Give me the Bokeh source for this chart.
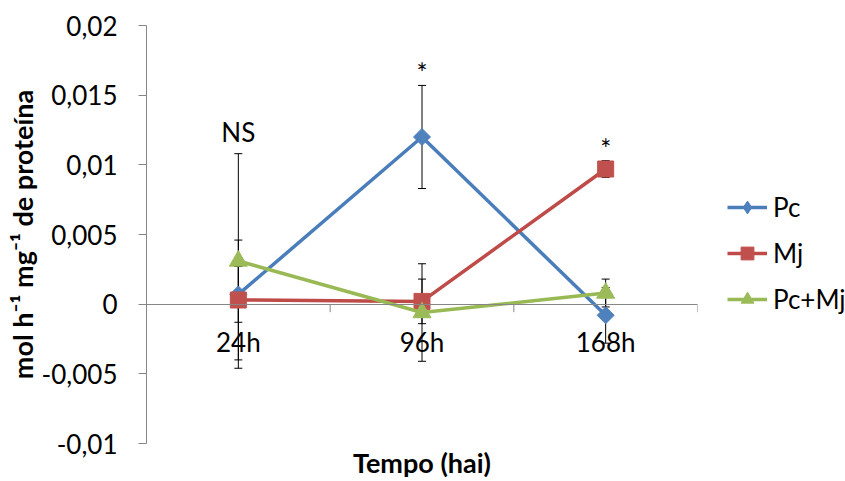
import math
from bokeh.plotting import figure
from bokeh.layouts import row
from bokeh.models import (ColumnDataSource, Whisker, TeeHead, FixedTicker, Legend,
                          LegendItem, CategoricalAxis, LinearAxis, Range1d, FactorRange)
from bokeh.core.properties import value
from bokeh.embed import file_html
from bokeh.resources import INLINE

# ---- data ----
categories = ["24h", "96h", "168h"]
pc = [0.0007, 0.0120, -0.0008]
pc_err = [0.0020, 0.0037, 0.0020]
mj = [0.0003, 0.0002, 0.0097]
mj_err = [0.0043, 0.0016, 0.0006]
pcmj = [0.0031, -0.0006, 0.0008]
pcmj_err = [0.0077, 0.0035, 0.0010]
sig_labels = ["NS", "*", "*"]
series_names = ["Pc", "Mj", "Pc+Mj"]
y_ticks = [-0.01, -0.005, 0, 0.005, 0.01, 0.015, 0.02]
y_tick_labels = ["-0,01", "-0,005", "0", "0,005", "0,01", "0,015", "0,02"]
x_title = "Tempo (hai)"
y_title = "mol h\u207b\u00b9 mg\u207b\u00b9 de proteína"

FONT = "Lato"
AXIS_GRAY = "#868686"

p = figure(width=700, height=481,
           x_range=FactorRange(*categories), y_range=Range1d(-0.01, 0.02),
           output_backend="svg", toolbar_location=None,
           x_axis_location=None, y_axis_location="left",
           min_border_left=146, min_border_right=3,
           min_border_top=25, min_border_bottom=35)
p.outline_line_color = None
p.xgrid.visible = False
p.ygrid.visible = False
p.background_fill_color = "white"
p.border_fill_color = "white"

# y axis
ya = p.yaxis[0]
ya.ticker = FixedTicker(ticks=y_ticks)
ya.major_label_overrides = {t: l for t, l in zip(y_ticks, y_tick_labels)}
ya.axis_line_color = AXIS_GRAY
ya.major_tick_line_color = AXIS_GRAY
ya.minor_tick_line_color = None
ya.major_tick_out = 8
ya.major_tick_in = 0
ya.major_label_standoff = 21
ya.major_label_text_font = FONT
ya.major_label_text_font_size = "26px"
ya.major_label_text_color = "black"
ya.axis_label = y_title
ya.axis_label_text_font = FONT
ya.axis_label_text_font_style = "bold"
ya.axis_label_text_font_size = "27px"
ya.axis_label_text_color = "black"
ya.axis_label_standoff = 0

# x axis at y = 0
xa = CategoricalAxis(fixed_location=0)
xa.axis_line_color = AXIS_GRAY
xa.major_tick_line_color = None
xa.major_tick_out = 0
xa.major_tick_in = 0
xa.major_label_standoff = 22
xa.major_label_text_font = FONT
xa.major_label_text_font_size = "26px"
xa.major_label_text_color = "black"
p.add_layout(xa, "below")

# x axis title holder (no ticks, no labels)
ta = LinearAxis(axis_label=x_title, ticker=FixedTicker(ticks=[]))
ta.axis_line_color = None
ta.major_tick_line_color = None
ta.minor_tick_line_color = None
ta.major_tick_out = 0
ta.major_tick_in = 0
ta.major_label_standoff = 0
ta.axis_label_standoff = 2
ta.axis_label_text_font = FONT
ta.axis_label_text_font_style = "bold"
ta.axis_label_text_font_size = "27px"
ta.axis_label_text_color = "black"
p.add_layout(ta, "below")

# category boundary ticks on the zero axis
p.ray(x=[1, 2, 3], y=[0, 0, 0], length=8, length_units="screen",
      angle=-math.pi / 2, line_color=AXIS_GRAY, line_width=1)

src = ColumnDataSource(dict(
    cat=categories,
    pc=pc, pc_lo=[v - e for v, e in zip(pc, pc_err)], pc_hi=[v + e for v, e in zip(pc, pc_err)],
    mj=mj, mj_lo=[v - e for v, e in zip(mj, mj_err)], mj_hi=[v + e for v, e in zip(mj, mj_err)],
    pcmj=pcmj, pcmj_lo=[v - e for v, e in zip(pcmj, pcmj_err)], pcmj_hi=[v + e for v, e in zip(pcmj, pcmj_err)],
))

for key in ["pc", "mj", "pcmj"]:
    w = Whisker(source=src, base="cat", upper=key + "_hi", lower=key + "_lo",
                line_color="black", line_width=1, level="underlay",
                upper_head=TeeHead(size=8, line_color="black", line_width=1),
                lower_head=TeeHead(size=8, line_color="black", line_width=1))
    p.add_layout(w)

styles = [
    ("pc", "#4A7EBB", "#4F81BD", "square", 12, math.pi / 4, "diamond"),
    ("mj", "#BE4B48", "#C0504D", "square", 16, 0, "square"),
    ("pcmj", "#98B954", "#9BBB59", "triangle", 18, 0, "triangle"),
]
for key, lc, fc, mk, sz, ang, _ in styles:
    p.line(x="cat", y=key, source=src, line_color=lc, line_width=3.5)
    p.scatter(x="cat", y=key, source=src, marker=mk, size=sz, angle=ang,
              fill_color=fc, line_color=fc)

# significance labels (letters sit on the baseline, the asterisk sits high)
tops = [max(a + b, c + d, e + f) for a, b, c, d, e, f in
        zip(pc, pc_err, mj, mj_err, pcmj, pcmj_err)]
sig_offsets = [-22 if s.isalpha() else -12 for s in sig_labels]
p.text(x=categories, y=tops, text=sig_labels, y_offset=sig_offsets,
       text_align="center", text_baseline="alphabetic",
       text_font=value(FONT), text_font_size=value("26px"), text_color="black")

# legend in a side figure (its sample renderers lie outside its visible range)
lf = figure(width=145, height=481, x_range=Range1d(0, 1), y_range=Range1d(0, 1),
            output_backend="svg", toolbar_location=None,
            x_axis_location=None, y_axis_location=None,
            min_border_left=0, min_border_right=0, min_border_top=0, min_border_bottom=0)
lf.outline_line_color = None
lf.xgrid.visible = False
lf.ygrid.visible = False
lf.border_fill_color = "white"
items = []
for (key, lc, fc, mk, sz, ang, lmk), name in zip(styles, series_names):
    lr = lf.line(x=[5, 6], y=[5, 6], line_color=lc, line_width=3.5)
    sr = lf.scatter(x=[5], y=[5], marker=lmk, size=sz,
                    fill_color=fc, line_color=fc)
    items.append(LegendItem(label=name, renderers=[lr, sr]))

legend = Legend(items=items, location=(27, 128), orientation="vertical",
                glyph_width=40, glyph_height=32, label_height=20,
                label_standoff=6, spacing=14, padding=0, margin=0,
                border_line_color=None, background_fill_alpha=0,
                label_text_font=FONT, label_text_font_size="26px",
                label_text_color="black")
lf.add_layout(legend, "center")

layout = row(p, lf, spacing=0)
open("out.html", "w").write(file_html(layout, INLINE))
